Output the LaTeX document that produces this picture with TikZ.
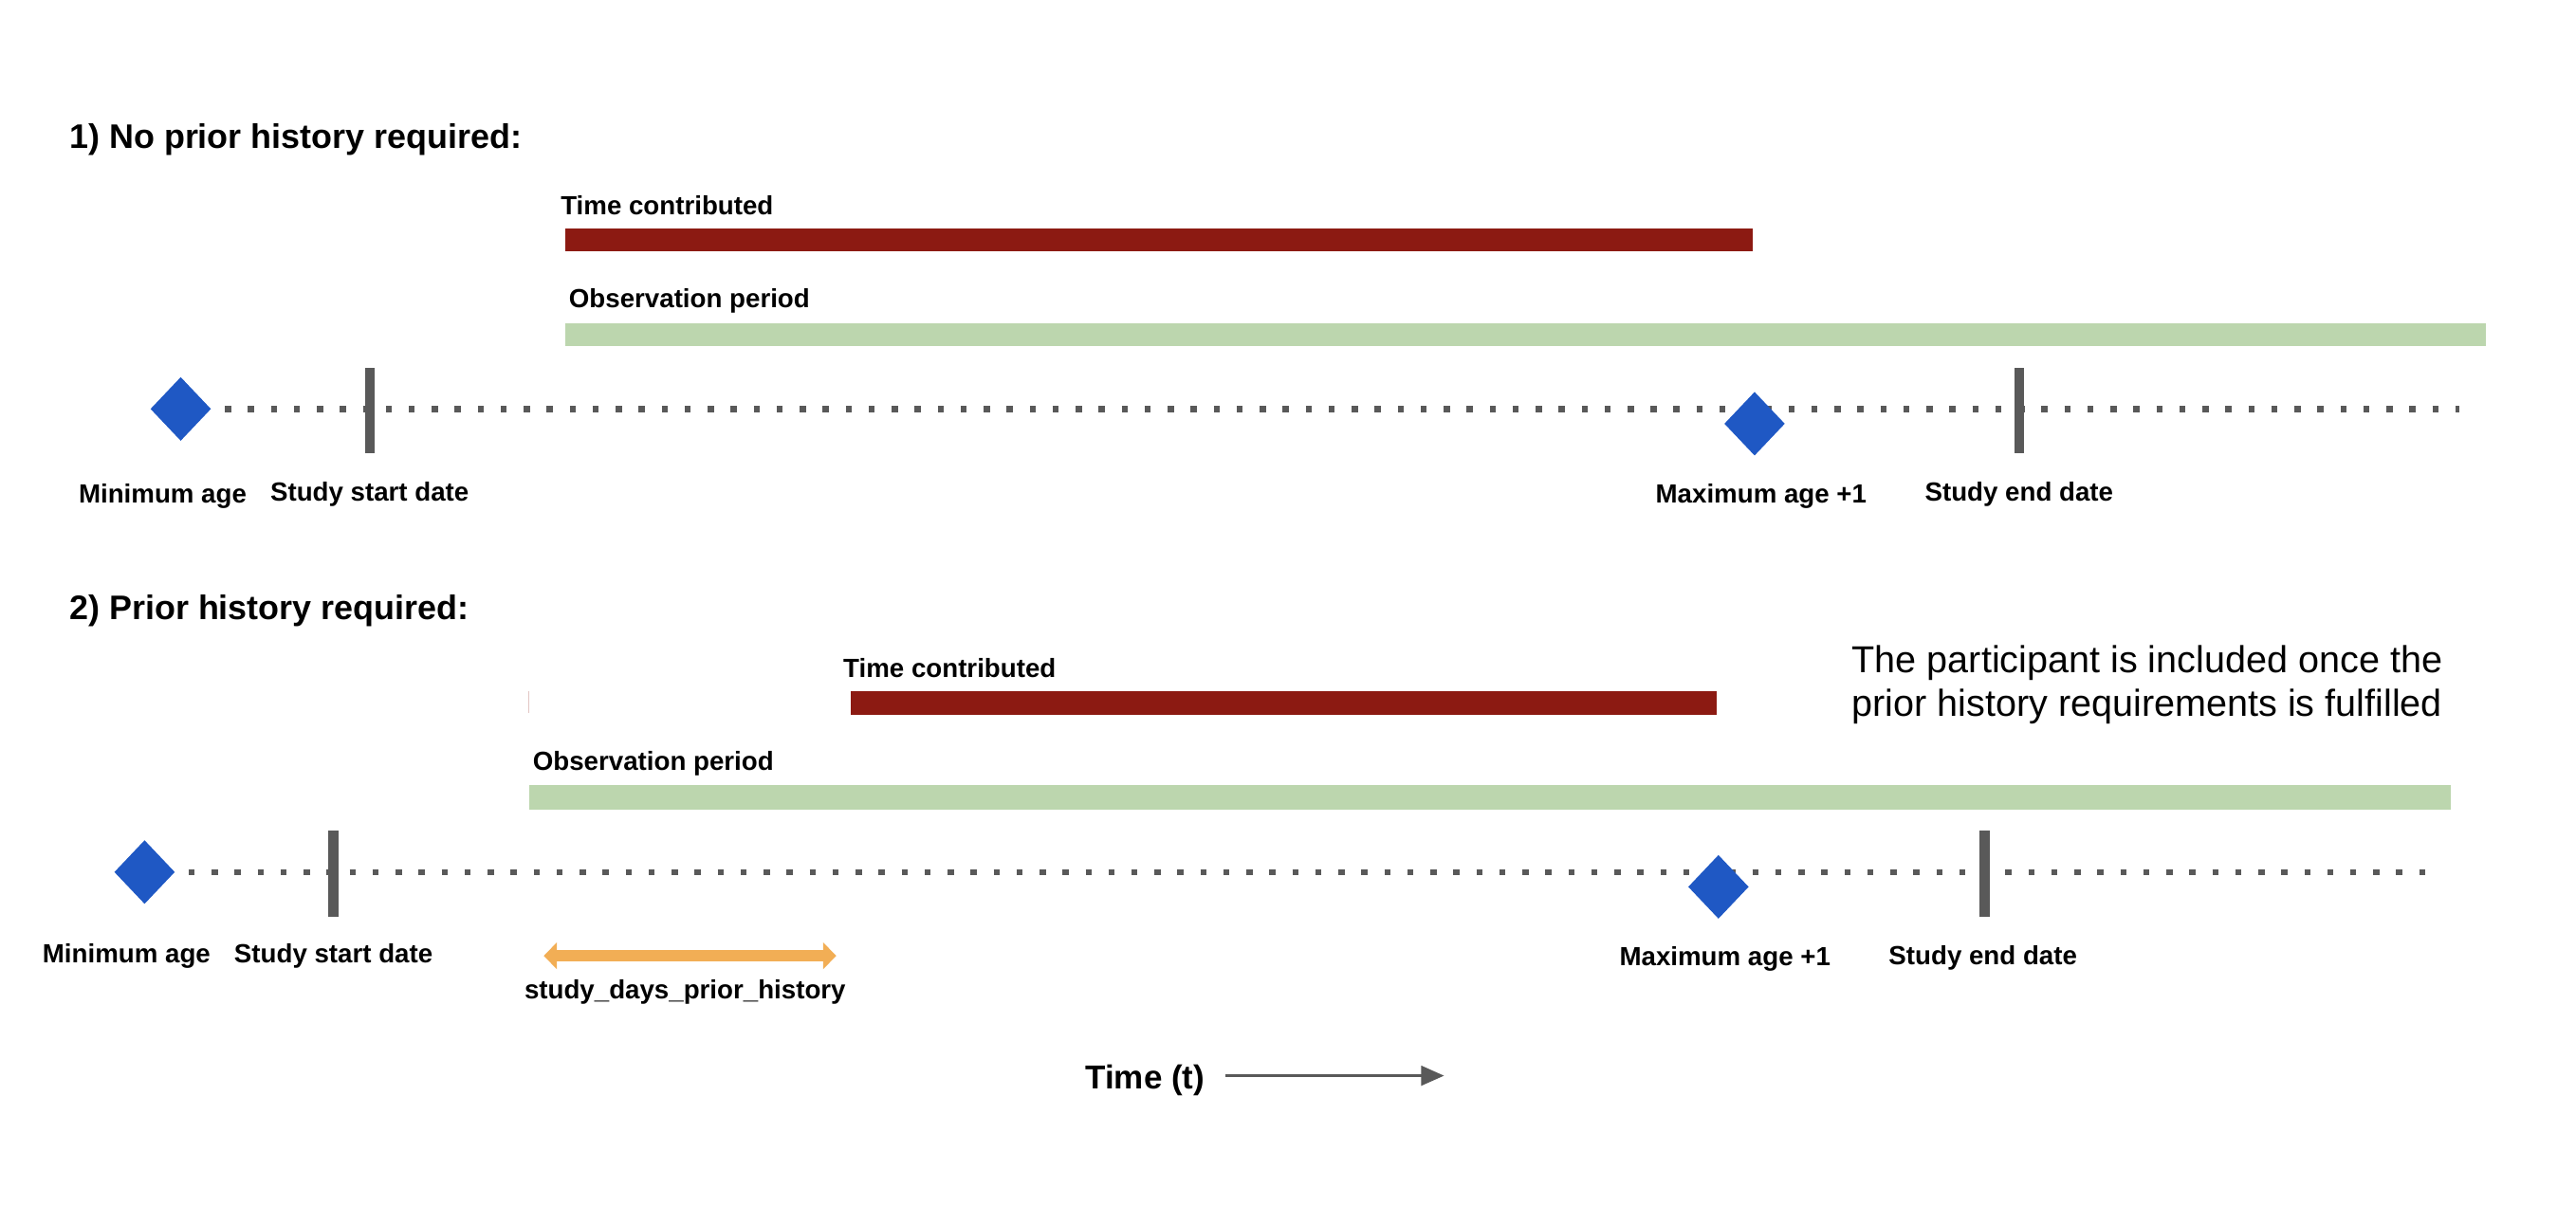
\documentclass[tikz,border=0pt]{standalone}
\usepackage{fontspec}
\setmainfont{Liberation Sans}
\usetikzlibrary{positioning,shapes.geometric,arrows.meta}
\definecolor{barred}{HTML}{8C1A12}
\definecolor{obsgreen}{HTML}{BCD6AE}
\definecolor{ageblue}{HTML}{1F58C4}
\definecolor{tickgray}{HTML}{595959}
\definecolor{priororange}{HTML}{F2AE55}

\begin{document}
\begin{tikzpicture}[x=0.02cm,y=-0.02cm,
    lbl/.style={font=\bfseries\fontsize{9.1}{11}\selectfont,inner sep=0pt},
    ttl/.style={font=\bfseries\fontsize{11.8}{14}\selectfont,anchor=west,inner sep=0pt},
    agemark/.style={diamond,fill=ageblue,minimum width=0.74cm,minimum height=0.78cm,inner sep=0pt},
    datetick/.style={rectangle,fill=tickgray,minimum width=0.12cm,minimum height=1.04cm,inner sep=0pt},
    timeline/.style={tickgray,line width=0.075cm,dash pattern=on 0.075cm off 0.205cm,shorten <=0.16cm}]
    \useasboundingbox (0,0) rectangle (1568,745);

    % 1) no prior history
    \node (t1) [ttl] at (42,85) {1) No prior history required:};
    \node (tc1) [lbl,anchor=west] at (341,125) {Time contributed};
    \fill[barred] (344,139) rectangle (1067,153);
    \node (op1) [lbl,anchor=west] at (346,183) {Observation period};
    \fill[obsgreen] (344,197) rectangle (1513,211);
    \node (min1) [agemark] at (110,249) {};
    \coordinate (end1) at (1497,249);
    \draw[timeline] (min1.east) -- (end1);
    \node (start1) [datetick] at (225,250) {};
    \node (stop1) [datetick] at (1229,250) {};
    \node (max1) [agemark] at (1068,258) {};
    \node (minl1) [lbl] at (99,302) {Minimum age};
    \node (startl1) [lbl] at (225,301) {Study start date};
    \node (maxl1) [lbl] at (1072,302) {Maximum age +1};
    \node (stopl1) [lbl] at (1229,301) {Study end date};

    % 2) prior history
    \node (t2) [ttl] at (42,372) {2) Prior history required:};
    \draw[barred!25,line width=0.4pt] (322,421) -- (322,434);
    \node (tc2) [lbl,anchor=west] at (513,407) {Time contributed};
    \fill[barred] (518,421) rectangle (1045,435);
    \node (op2) [lbl,anchor=west] at (324,465) {Observation period};
    \fill[obsgreen] (322,478) rectangle (1492,493);
    \node (note) [anchor=west,align=left,inner sep=0pt,font=\fontsize{13}{15.4}\selectfont]
        at (1127,417) {The participant is included once the\\prior history requirements is fulfilled};
    \node (min2) [agemark] at (88,531) {};
    \coordinate (end2) at (1476,531);
    \draw[timeline] (min2.east) -- (end2);
    \node (start2) [datetick] at (203,532) {};
    \node (stop2) [datetick] at (1208,532) {};
    \node (max2) [agemark] at (1046,540) {};
    \node (minl2) [lbl] at (77,582) {Minimum age};
    \node (startl2) [lbl] at (203,582) {Study start date};
    \node (maxl2) [lbl] at (1050,584) {Maximum age +1};
    \node (stopl2) [lbl] at (1207,583) {Study end date};
    \coordinate (pa) at (331,582);
    \coordinate (pb) at (509,582);
    \draw[priororange,line width=0.14cm,{Triangle[length=0.16cm,width=0.32cm]}-{Triangle[length=0.16cm,width=0.32cm]}] (pa) -- (pb);
    \node (prior) [lbl] at (417,604) {study\_days\_prior\_history};

    % time axis
    \node (time) [font=\bfseries\fontsize{11.5}{14}\selectfont,inner sep=0pt] at (697,658) {Time (t)};
    \coordinate (ts) at (746,655);
    \coordinate (te) at (879,655);
    \draw[tickgray,line width=0.03cm,-{Triangle[length=0.28cm,width=0.24cm]}] (ts) -- (te);
\end{tikzpicture}
\end{document}
